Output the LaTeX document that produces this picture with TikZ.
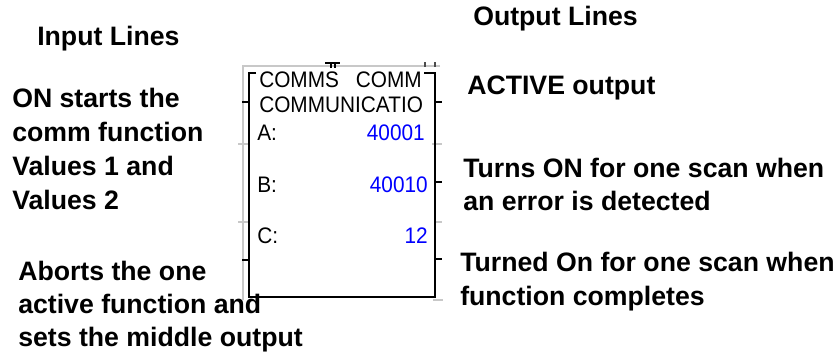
\documentclass[tikz,border=0pt]{standalone}
\usepackage{fontspec}
\setmainfont{Liberation Sans}
\usetikzlibrary{positioning}

\definecolor{gridgray}{RGB}{200,200,200}
\tikzset{
  lbl/.style={anchor=base west, inner sep=0pt, font=\bfseries\fontsize{20}{24}\selectfont},
  blktxt/.style={anchor=base west, inner sep=0pt, yscale=1.08, font=\fontsize{15.6}{19}\selectfont},
  blkval/.style={blktxt, anchor=base east, text=blue},
  pin/.style={black, line width=1.5pt},
  guide/.style={gridgray, line width=1.2pt}
}

\begin{document}
\begin{tikzpicture}[x=0.75pt,y=-0.75pt]
\useasboundingbox (0,0) rectangle (838,355);

% light guide lines behind the block
\draw[guide] (440,66) -- (243,66) -- (243,300);
\draw[guide] (238,144) -- (249,144);
\draw[guide] (238,222) -- (249,222);
\draw[guide] (432,144) -- (442,144);
\draw[guide] (435,222) -- (442,222);
\draw[guide] (433,300) -- (443,300);

% bits of text cut off above the block
\draw[black, line width=1pt] (325,63) -- (340,63);
\draw[black, line width=1pt] (331,63) -- (331,68);
\draw[black, line width=1pt] (335,63) -- (335,68);
\draw[black!70, line width=1pt] (425,62) -- (425,67);
\draw[black!70, line width=1pt] (435,62) -- (435,67);

% the block
\coordinate (tl) at (249,73);
\coordinate (tr) at (435,73);
\coordinate (bl) at (249,297);
\coordinate (br) at (435,297);
\draw[pin] (256,73) -- (tl) -- (bl) -- (br) -- (tr) -- (424,73);

% input and output pins
\draw[pin] (242,102) -- (249,102);
\draw[pin] (242,260) -- (249,260);
\draw[pin] (435,102) -- (442,102);
\draw[pin] (435,182) -- (442,182);
\draw[pin] (435,259) -- (442,259);

% text in the block
\node[blktxt] (ttl1) at (259,87) {COMMS};
\node[blktxt, anchor=base east] (ttl2) at (422,87) {COMM};
\node[blktxt] (ttl3) at (259,112) {COMMUNICATIO};
\node[blktxt] (lbla) at (257,140) {A:};
\node[blkval] (vala) at (425,140) {40001};
\node[blktxt] (lblb) at (257,192) {B:};
\node[blkval] (valb) at (428,192) {40010};
\node[blktxt] (lblc) at (257,243) {C:};
\node[blkval] (valc) at (428,243) {12};

% input side
\node[lbl] (inhdr) at (37,45) {Input Lines};
\node[lbl] (start1) at (12,107) {ON starts the};
\node[lbl] (start2) at (12,141) {comm function};
\node[lbl] (start3) at (12,175) {Values 1 and};
\node[lbl] (start4) at (12,209) {Values 2};
\node[lbl] (abort1) at (18,280) {Aborts the one};
\node[lbl] (abort2) at (18,313) {active function and};
\node[lbl] (abort3) at (18,346) {sets the middle output};

% output side
\node[lbl] (outhdr) at (473,25) {Output Lines};
\node[lbl] (active) at (467,94) {ACTIVE output};
\node[lbl] (err1) at (463,177) {Turns ON for one scan when};
\node[lbl] (err2) at (463,210) {an error is detected};
\node[lbl] (done1) at (460,271) {Turned On for one scan when};
\node[lbl] (done2) at (460,305) {function completes};
\end{tikzpicture}
\end{document}
